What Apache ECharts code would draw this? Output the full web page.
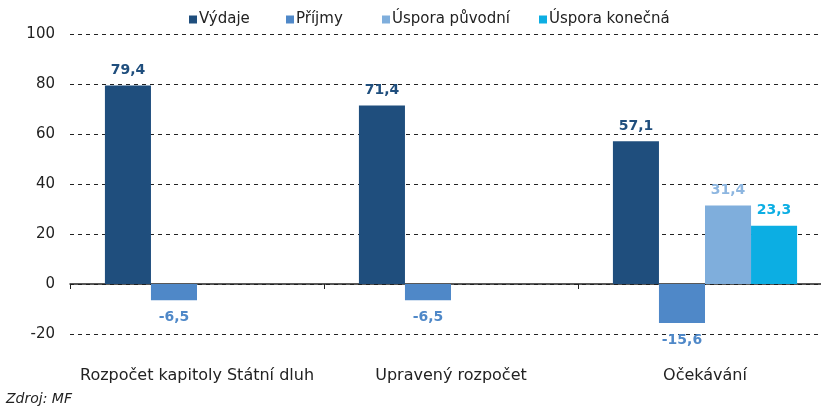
<!DOCTYPE html>
<html>
<head>
<meta charset="utf-8">
<script src="https://cdn.jsdelivr.net/npm/echarts@6/dist/echarts.min.js"></script>
<style>
  html, body { margin: 0; padding: 0; background: #fff; }
  #chart { width: 821px; height: 408px; }
</style>
</head>
<body>
<div id="chart"></div>
<script>
  // categories and series values
  var categories = ['Rozpočet kapitoly Státní dluh', 'Upravený rozpočet', 'Očekávání'];
  var vydaje = [79.4, 71.4, 57.1];
  var prijmy = [-6.5, -6.5, -15.6];
  var usporaPuvodni = [null, null, 31.4];
  var usporaKonecna = [null, null, 23.3];
  var seriesNames = ['Výdaje', 'Příjmy', 'Úspora původní', 'Úspora konečná'];
  var colors = ['#1F4E7D', '#4F88C8', '#7FAEDC', '#0CAEE3'];
  var labelColors = ['#1F4E7D', '#4F88C8', '#8DB6E0', '#0CAEE3'];
  var legendLeft = [184, 281, 377, 534];

  var fmt = function (p) { return p.value == null ? '' : String(p.value).replace('.', ','); };

  function bar(i, data, pos, dist) {
    return {
      name: seriesNames[i],
      type: 'bar',
      data: data,
      barGap: 0,
      barCategoryGap: '27.5%',
      itemStyle: { color: colors[i] },
      label: {
        show: true,
        position: pos,
        distance: dist,
        formatter: fmt,
        color: labelColors[i],
        fontFamily: 'DejaVu Sans',
        fontWeight: 'bold',
        fontSize: 14
      }
    };
  }

  // one legend per item so each sits where it does in the picture
  var legends = seriesNames.map(function (name, i) {
    return {
      top: 7,
      left: legendLeft[i],
      itemWidth: 8,
      itemHeight: 8,
      icon: 'rect',
      textStyle: { fontFamily: 'DejaVu Sans', fontSize: 15, color: '#222', padding: [0, 0, 0, -3] },
      data: [name]
    };
  });

  var myChart = echarts.init(document.getElementById('chart'));
  myChart.setOption({
    animation: false,
    backgroundColor: '#fff',
    legend: legends,
    grid: { left: 70, top: 34, width: 762, bottom: 74, outerBoundsMode: 'none', containLabel: false },
    xAxis: {
      type: 'category',
      data: categories,
      axisLine: { onZero: true, lineStyle: { color: '#222', width: 1.5 } },
      axisTick: { show: true, length: 5, lineStyle: { color: '#222' } },
      axisLabel: { interval: 0, margin: 34, fontFamily: 'DejaVu Sans', fontSize: 16, color: '#222' }
    },
    yAxis: {
      type: 'value',
      min: -20,
      max: 100,
      interval: 20,
      axisLine: { show: false },
      axisTick: { show: false },
      axisLabel: { margin: 15, fontFamily: 'DejaVu Sans', fontSize: 15, color: '#222' },
      splitLine: { lineStyle: { color: '#222', type: [4, 4], width: 1 } }
    },
    series: [
      bar(0, vydaje, 'top', 8),
      bar(1, prijmy, 'bottom', 10),
      bar(2, usporaPuvodni, 'top', 8),
      bar(3, usporaKonecna, 'top', 8)
    ],
    graphic: [{
      type: 'text',
      left: 6,
      top: 392,
      style: { text: 'Zdroj: MF', font: 'italic 14px "DejaVu Sans"', fill: '#222' }
    }]
  });
</script>
</body>
</html>
